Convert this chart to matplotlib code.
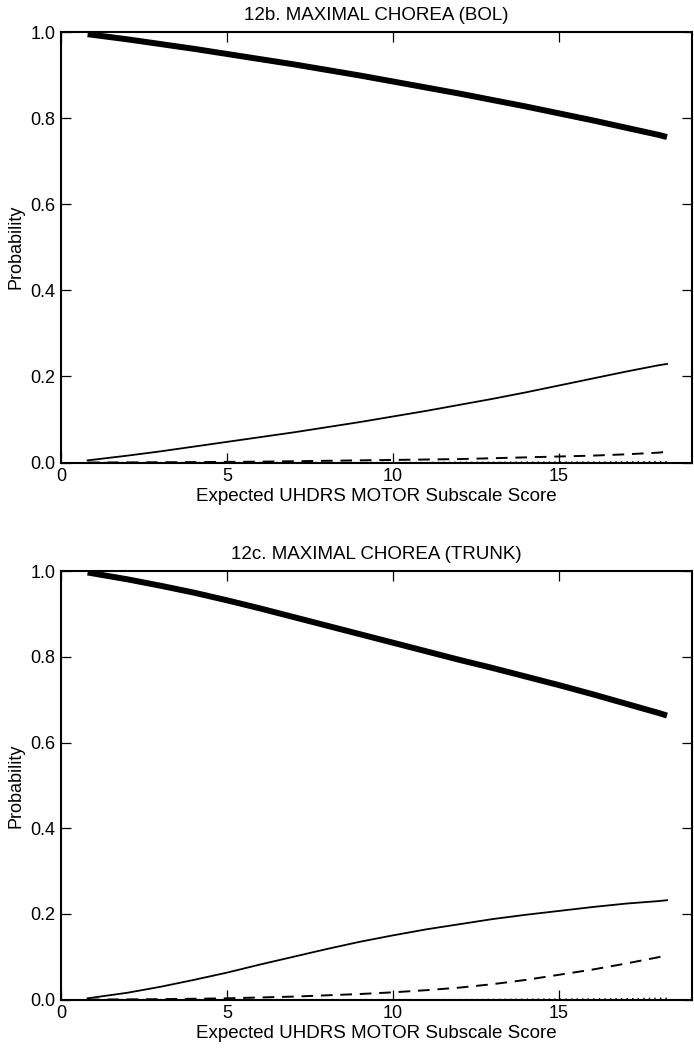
import matplotlib.pyplot as plt

plt.rcParams['font.family'] = ['Liberation Sans', 'DejaVu Sans']

# expected UHDRS motor score (x) for the curves
score = [0.8, 2, 3, 4, 5, 6, 7, 8, 9, 10, 11, 12, 13, 14, 15, 16, 17, 18, 18.25]

# 12b. BOL - probabilities per chorea category
bol_0 = [0.995, 0.983, 0.972, 0.961, 0.949, 0.937, 0.925, 0.912, 0.899, 0.885,
         0.871, 0.857, 0.842, 0.827, 0.811, 0.795, 0.778, 0.761, 0.756]
bol_1 = [0.005, 0.016, 0.026, 0.037, 0.048, 0.059, 0.070, 0.082, 0.094, 0.107,
         0.120, 0.134, 0.148, 0.163, 0.179, 0.195, 0.211, 0.226, 0.229]
bol_2 = [0.000, 0.0003, 0.0006, 0.001, 0.0015, 0.002, 0.003, 0.004, 0.005, 0.006,
         0.007, 0.008, 0.010, 0.012, 0.014, 0.016, 0.019, 0.023, 0.025]
bol_3 = [0.000, 0.000, 0.000, 0.000, 0.000, 0.000, 0.000, 0.000, 0.000, 0.000,
         0.000, 0.0005, 0.0005, 0.001, 0.001, 0.001, 0.0015, 0.002, 0.002]

# 12c. TRUNK
trunk_0 = [0.997, 0.981, 0.966, 0.950, 0.932, 0.913, 0.893, 0.873, 0.853, 0.833,
           0.813, 0.793, 0.774, 0.754, 0.734, 0.713, 0.691, 0.669, 0.663]
trunk_1 = [0.003, 0.016, 0.030, 0.046, 0.063, 0.082, 0.100, 0.118, 0.135, 0.150,
           0.164, 0.176, 0.188, 0.198, 0.207, 0.216, 0.224, 0.230, 0.232]
trunk_2 = [0.000, 0.0005, 0.001, 0.002, 0.003, 0.005, 0.007, 0.010, 0.013, 0.017,
           0.022, 0.028, 0.036, 0.046, 0.058, 0.070, 0.084, 0.099, 0.103]
trunk_3 = [0.000, 0.000, 0.000, 0.000, 0.000, 0.000, 0.000, 0.000, 0.000, 0.000,
           0.000, 0.000, 0.0005, 0.001, 0.001, 0.0015, 0.002, 0.003, 0.003]

titles = ['12b. MAXIMAL CHOREA (BOL)', '12c. MAXIMAL CHOREA (TRUNK)']
panels = [(bol_0, bol_1, bol_2, bol_3), (trunk_0, trunk_1, trunk_2, trunk_3)]

fig = plt.figure(figsize=(6.94, 10.5), dpi=100)
boxes = [[0.088, 0.5595, 0.909, 0.410], [0.088, 0.048, 0.909, 0.408]]

for box, title, (p0, p1, p2, p3) in zip(boxes, titles, panels):
    ax = fig.add_axes(box)
    ax.plot(score, p0, color='black', lw=4.3, solid_capstyle='butt')
    ax.plot(score, p1, color='black', lw=1.3)
    ax.plot(score, p2, color='black', lw=1.4, dashes=(6, 4))
    ax.plot(score, p3, color='black', lw=1.0, dashes=(1, 3))
    ax.set_xlim(0, 19)
    ax.set_ylim(0, 1)
    ax.set_xticks([0, 5, 10, 15])
    ax.set_yticks([0.0, 0.2, 0.4, 0.6, 0.8, 1.0])
    ax.set_yticklabels(['0.0', '0.2', '0.4', '0.6', '0.8', '1.0'])
    ax.tick_params(direction='in', top=True, right=True, length=7,
                   width=0.9, labelsize=13, pad=4)
    for s in ax.spines.values():
        s.set_linewidth(1.5)
    ax.set_title(title, fontsize=13.5, pad=9)
    ax.set_xlabel('Expected UHDRS MOTOR Subscale Score', fontsize=13.5, labelpad=2)
    ax.set_ylabel('Probability', fontsize=13, labelpad=4)

fig.savefig('out.png', dpi=100)
